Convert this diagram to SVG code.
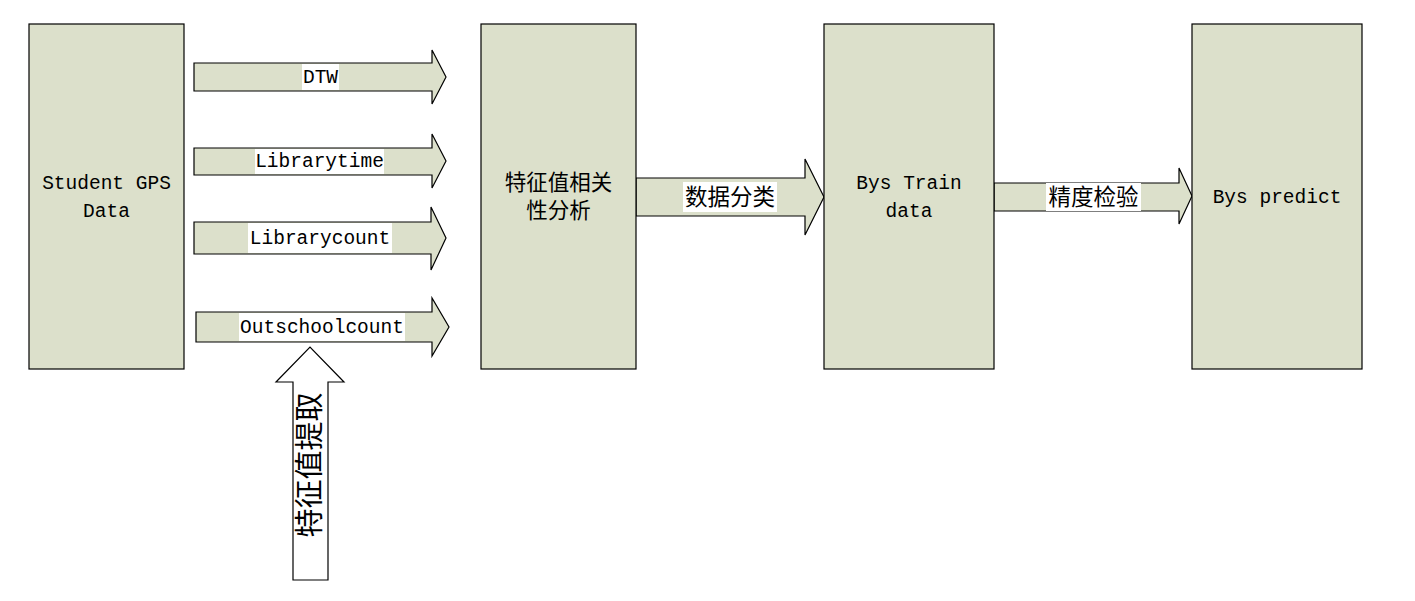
<svg xmlns="http://www.w3.org/2000/svg" width="1415" height="601" viewBox="0 0 1415 601">
<style>
.box{fill:#dce0cb;stroke:#000;stroke-width:1.2}
.arr{fill:#dce0cb;stroke:#000;stroke-width:1.2;stroke-linejoin:miter}
.warr{fill:#fff;stroke:#000;stroke-width:1.2}
.bg{fill:#fff}
.lat{font-family:"Liberation Mono",monospace;font-size:19.5px;fill:#000;text-anchor:middle}
.cjk{font-family:"Noto Sans CJK SC",sans-serif;font-size:22.5px;fill:#000;text-anchor:middle}
.cjkb{font-family:"Noto Sans CJK SC",sans-serif;font-size:21.5px;fill:#000;text-anchor:middle}
</style>
<rect width="1415" height="601" fill="#fff"/>
<g id="connectors">
  <g id="arrow-dtw">
    <polygon class="arr" points="194,63 432,63 432,50 446,77 432,104 432,91 194,91"/>
    <rect class="bg" x="302" y="64" width="37" height="26"/>
    <text class="lat" x="320.5" y="83">DTW</text>
  </g>
  <g id="arrow-librarytime">
    <polygon class="arr" points="194,148 432,148 432,134 446,161 432,188 432,175 194,175"/>
    <rect class="bg" x="255" y="149" width="129" height="25"/>
    <text class="lat" x="319.5" y="167">Librarytime</text>
  </g>
  <g id="arrow-librarycount">
    <polygon class="arr" points="194,222 431,222 431,207 446,238 431,270 431,254 194,254"/>
    <rect class="bg" x="248" y="223" width="144" height="30"/>
    <text class="lat" x="320" y="244">Librarycount</text>
  </g>
  <g id="arrow-outschoolcount">
    <polygon class="arr" points="196,312 432,312 432,298 449,327 432,356 432,342 196,342"/>
    <rect class="bg" x="239" y="313" width="166" height="28"/>
    <text class="lat" x="322" y="333">Outschoolcount</text>
  </g>
  <g id="arrow-classify">
    <polygon class="arr" points="636,178 805,178 805,159 824,197 805,235 805,216 636,216"/>
    <rect class="bg" x="683" y="182" width="94" height="30"/>
    <text class="cjk" x="730" y="205">数据分类</text>
  </g>
  <g id="arrow-accuracy">
    <polygon class="arr" points="994,183 1179,183 1179,168 1192,196 1179,224 1179,211 994,211"/>
    <rect class="bg" x="1046" y="183" width="95" height="28"/>
    <text class="cjk" x="1093.5" y="205">精度检验</text>
  </g>
  <g id="arrow-extract">
    <polygon class="warr" points="293,580 293,382 276,382 310,347 344,382 328,382 328,580"/>
    <text class="cjk" style="font-size:29px" transform="translate(320,465) rotate(-90)" x="0" y="0">特征值提取</text>
  </g>
</g>
<g id="node-student">
  <rect class="box" x="29" y="24" width="155" height="345"/>
  <text class="lat" x="106.5" y="189">Student GPS</text>
  <text class="lat" x="106.5" y="217">Data</text>
</g>
<g id="node-corr">
  <rect class="box" x="481" y="24" width="155" height="345"/>
  <text class="cjkb" x="558.5" y="190">特征值相关</text>
  <text class="cjkb" x="558.5" y="218">性分析</text>
</g>
<g id="node-train">
  <rect class="box" x="824" y="24" width="170" height="345"/>
  <text class="lat" x="909" y="189">Bys Train</text>
  <text class="lat" x="909" y="217">data</text>
</g>
<g id="node-predict">
  <rect class="box" x="1192" y="24" width="170" height="345"/>
  <text class="lat" x="1277" y="203">Bys predict</text>
</g>
</svg>
